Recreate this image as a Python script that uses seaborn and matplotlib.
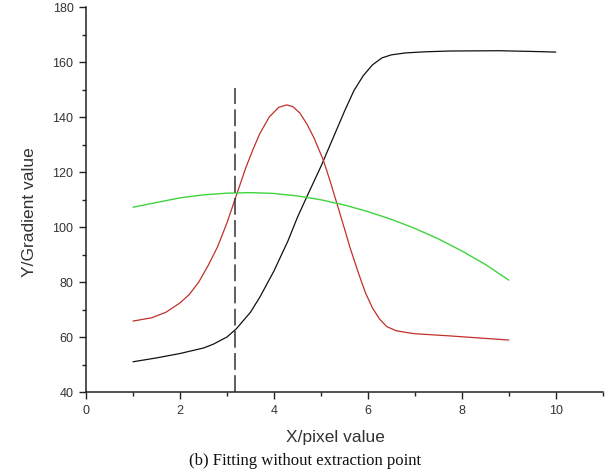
import matplotlib
matplotlib.use("Agg")
import matplotlib.pyplot as plt
import seaborn as sns
import pandas as pd
from matplotlib.ticker import MultipleLocator

# ---- data ----
x_black = [1.0, 1.5, 2.0, 2.5, 2.71, 3.0, 3.2, 3.5, 3.7, 4.0, 4.3, 4.5, 4.7, 5.0, 5.25, 5.5, 5.7, 5.9, 6.1, 6.3, 6.5, 6.8, 7.2, 7.75, 8.8, 9.6, 10.0]
y_black = [51.0, 52.4, 54.0, 56.0, 57.4, 60.0, 63.0, 69.0, 74.5, 84.0, 95.0, 103.5, 111.0, 122.0, 132.0, 142.0, 149.5, 155.0, 159.0, 161.5, 162.6, 163.3, 163.7, 164.0, 164.1, 163.8, 163.6]

x_red = [1.0, 1.4, 1.7, 2.0, 2.2, 2.4, 2.6, 2.8, 3.0, 3.2, 3.4, 3.55, 3.7, 3.9, 4.1, 4.27, 4.4, 4.55, 4.7, 4.85, 5.05, 5.2, 5.35, 5.5, 5.62, 5.8, 5.95, 6.1, 6.25, 6.4, 6.6, 6.8, 7.0, 7.75, 8.5, 9.0]
y_red = [65.8, 67.0, 69.0, 72.4, 75.5, 80.0, 86.0, 92.8, 101.5, 111.5, 121.5, 128.0, 134.0, 140.0, 143.5, 144.4, 143.8, 141.5, 137.5, 132.5, 124.4, 116.5, 108.0, 99.5, 92.5, 83.2, 76.0, 70.5, 66.5, 63.8, 62.3, 61.7, 61.2, 60.4, 59.5, 58.9]

x_green = [1.0, 1.5, 2.0, 2.5, 3.0, 3.5, 4.0, 4.5, 5.0, 5.5, 6.0, 6.5, 7.0, 7.5, 8.0, 8.5, 9.0]
y_green = [107.2, 108.9, 110.6, 111.7, 112.3, 112.5, 112.2, 111.3, 109.9, 108.0, 105.6, 102.8, 99.5, 95.7, 91.3, 86.4, 80.7]

dash_x = [3.18, 3.18]
dash_y = [40.0, 150.5]

x_ticks = [0, 2, 4, 6, 8, 10]
y_ticks = [40, 60, 80, 100, 120, 140, 160, 180]

x_label = "X/pixel value"
y_label = "Y/Gradient value"
caption = "(b) Fitting without extraction point"

# ---- figure ----
sns.set_style("ticks")
plt.rcParams['font.family'] = ['Liberation Sans', 'DejaVu Sans']

fig = plt.figure(figsize=(6.11, 4.73), dpi=100)
ax = fig.add_axes([0.1408, 0.1712, 0.8457, 0.8140])

df_b = pd.DataFrame({"x": x_black, "y": y_black})
df_r = pd.DataFrame({"x": x_red, "y": y_red})
df_g = pd.DataFrame({"x": x_green, "y": y_green})
df_d = pd.DataFrame({"x": dash_x, "y": dash_y})

sns.lineplot(data=df_b, x="x", y="y", color="#111111", lw=0.9, estimator=None, ax=ax)
sns.lineplot(data=df_r, x="x", y="y", color="#c0302a", lw=0.9, estimator=None, ax=ax)
sns.lineplot(data=df_g, x="x", y="y", color="#3ed43e", lw=1.0, estimator=None, ax=ax)
sns.lineplot(data=df_d, x="x", y="y", color="#333333", lw=1.1, estimator=None,
             sort=False, ax=ax, dashes=False, linestyle=(0, (11, 3.5)))

ax.set_xlim(0, 11)
ax.set_ylim(40, 180)
ax.set_xticks(x_ticks)
ax.set_yticks(y_ticks)
ax.xaxis.set_minor_locator(MultipleLocator(1))
ax.yaxis.set_minor_locator(MultipleLocator(10))
ax.tick_params(which="major", direction="out", length=5, width=1.0, color="#222222",
               labelsize=9, labelcolor="#333333", pad=4)
ax.tick_params(which="minor", direction="out", length=3, width=1.0, color="#222222")
sns.despine(ax=ax)
for s in ("left", "bottom"):
    ax.spines[s].set_linewidth(1.1)
    ax.spines[s].set_color("#222222")
ax.set_xlabel("")
ax.set_ylabel("")

fig.text(335 / 611, 1 - 437 / 473, x_label, ha="center", va="center", fontsize=12.5, color="#333333")
fig.text(30 / 611, 1 - 212 / 473, y_label, ha="center", va="center", rotation=90, fontsize=12.5, color="#333333")
fig.text(305 / 611, 1 - 461 / 473, caption, ha="center", va="center", fontsize=12,
         family=["Liberation Serif", "DejaVu Serif"], color="#111111")

fig.savefig("out.png", dpi=100)
